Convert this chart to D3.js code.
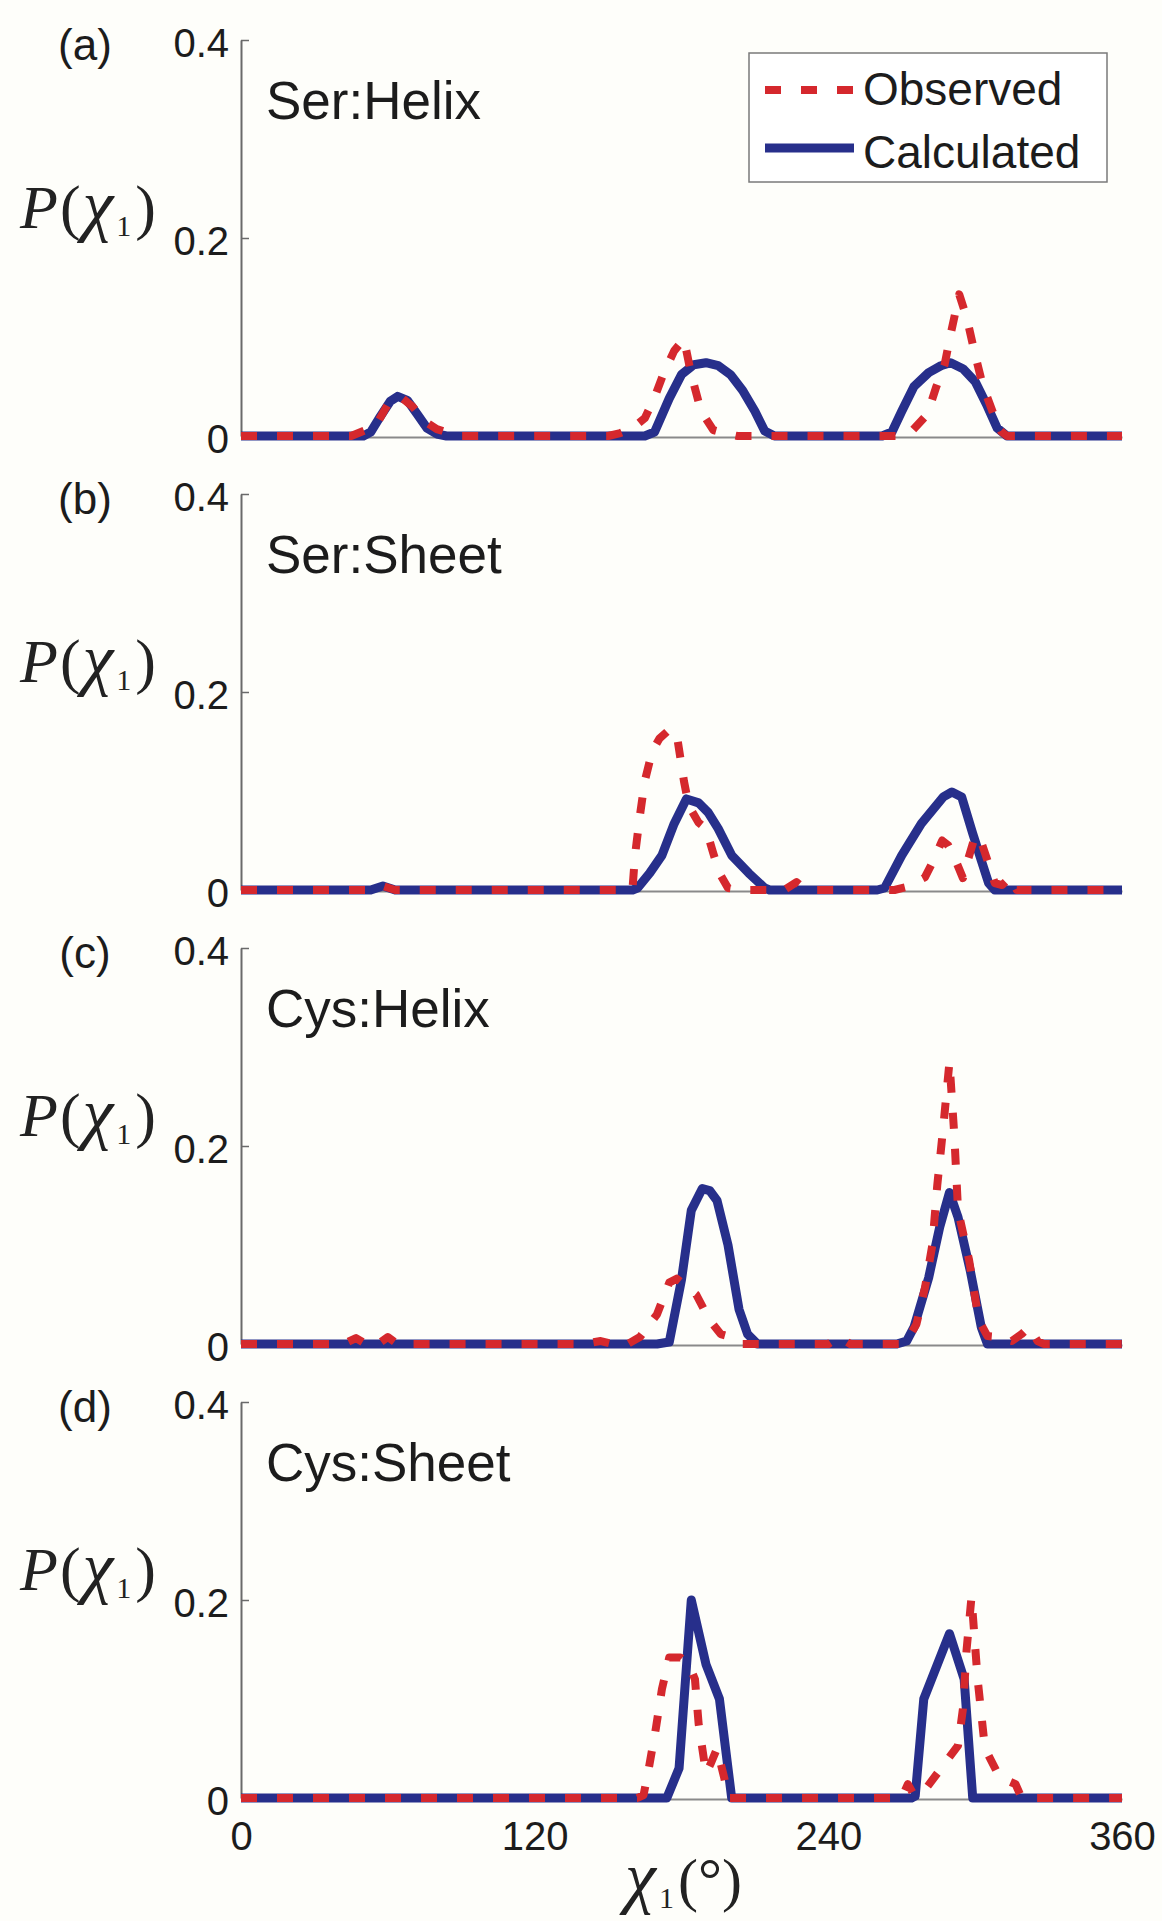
<!DOCTYPE html>
<html lang="en">
<head>
<meta charset="UTF-8">
<title>P(chi1) distributions: Ser and Cys</title>
<script src="https://cdnjs.cloudflare.com/ajax/libs/d3/7.8.5/d3.min.js"></script>
<style>
    body {
        margin: 0;
        background: #fefefa;
    }
    svg { display: block; }
    .tick text {
        font-family: "Liberation Sans", Arial, sans-serif;
        fill: #1c1c1c;
    }
</style>
</head>
<body>
<div id="chart"></div>
<script>
// panel labels and titles
const panelLabels = ["(a)", "(b)", "(c)", "(d)"];
const panelTitles = ["Ser:Helix", "Ser:Sheet", "Cys:Helix", "Cys:Sheet"];
const xTicks = [0, 120, 240, 360];
const yTicks = [0, 0.2, 0.4];
const seriesNames = ["Observed", "Calculated"];

// [chi1 in degrees, probability]
const observedA = [[0,0],[45,0],[50,0.005],[55,0.01],[60,0.032],[65,0.04],[70,0.03],[75,0.015],[80,0.007],[85,0.003],[90,0],
    [150,0],[155,0.003],[160,0.008],[165,0.018],[169,0.039],[172.5,0.062],[177,0.086],[181,0.098],[184,0.062],[188,0.025],[193,0.006],[199,0.002],[203,0],
    [270,0],[273,0.002],[280.5,0.022],[284,0.049],[287.5,0.072],[290,0.103],[293.5,0.143],[296.5,0.12],[300,0.082],[303,0.052],[307.5,0.022],[310.5,0.005],[313,0],[360,0]];
const calculatedA = [[0,0],[50,0],[53,0.004],[57,0.02],[61,0.035],[64,0.04],[68,0.036],[72,0.022],[76,0.008],[80,0.002],[84,0],
    [165,0],[169,0.004],[175,0.038],[180,0.062],[185,0.072],[190,0.074],[195,0.071],[200,0.062],[205,0.046],[210,0.025],[214,0.005],[218,0],
    [262,0],[266,0.004],[270,0.025],[275,0.05],[281,0.064],[286,0.071],[290,0.074],[295,0.068],[300,0.055],[305,0.03],[309,0.008],[313,0],[360,0]];

const observedB = [[0,0],[53,0],[58,0.004],[63,0],
    [155,0],[160,0.002],[161,0.035],[163,0.075],[165,0.11],[168,0.14],[171,0.153],[175.5,0.163],[178.5,0.15],[181,0.11],[183,0.085],[187,0.068],[190,0.062],[193,0.037],[195.5,0.017],[199,0.002],[205,0],
    [222,0],[227,0.008],[231,0],
    [267,0],[272,0.003],[279.5,0.013],[283,0.03],[286.5,0.05],[289,0.045],[292,0.03],[295,0.012],[297,0.03],[300,0.055],[302,0.052],[305,0.03],[308,0.007],[311,0.005],[314.5,0.013],[317,0],[360,0]];
const calculatedB = [[0,0],[53,0],[58,0.004],[63,0],
    [160,0],[162,0.002],[167,0.017],[172,0.035],[177,0.067],[182,0.092],[187,0.088],[191,0.078],[195,0.062],[200.5,0.035],[207.5,0.017],[214,0.002],[216,0],
    [260,0],[263,0.002],[270,0.035],[278,0.067],[287,0.094],[290.5,0.099],[294.5,0.094],[299,0.057],[302.5,0.03],[305.5,0.007],[308,0],[360,0]];

const observedC = [[0,0],[42,0],[47,0.006],[51,0],[56,0],[60,0.007],[64,0],
    [140,0],[147,0.003],[152,0],[158,0],[163,0.007],[170,0.03],[175,0.062],[178,0.066],[182,0.058],[186,0.05],[191.5,0.024],[196,0.01],[200.5,0.007],[205,0],
    [240,0],[244.5,0.007],[249,0],
    [270,0],[272,0.003],[276,0.02],[279.5,0.057],[282.5,0.1],[284.5,0.16],[287,0.22],[289.5,0.285],[291.5,0.21],[293,0.135],[297.5,0.085],[301.5,0.024],[305,0.008],[310,0.007],[315,0.003],[319,0.01],[322,0.017],[325.5,0.003],[328,0],[360,0]];
const calculatedC = [[0,0],[170,0],[175,0.002],[180,0.065],[184,0.135],[188.5,0.157],[191.5,0.155],[194.5,0.145],[199,0.1],[203.5,0.035],[207,0.01],[211,0],
    [268,0],[272,0.003],[275,0.017],[281,0.067],[285.5,0.118],[289.5,0.153],[293,0.128],[298,0.074],[302.5,0.017],[305,0],[360,0]];

const observedD = [[0,0],[162,0],[164.5,0.003],[166.5,0.028],[169.5,0.07],[172,0.11],[175,0.142],[179.5,0.142],[183,0.135],[185.5,0.12],[187,0.075],[190,0.025],[192,0.035],[194.5,0.05],[197.5,0.02],[199,0],
    [270,0],[272.5,0.014],[275,0.003],[280,0.01],[285.5,0.028],[293,0.053],[295,0.09],[296.5,0.15],[298.5,0.203],[301,0.12],[304,0.05],[310,0.021],[316.5,0.014],[319,0],[360,0]];
const calculatedD = [[0,0],[174,0],[179,0.03],[184,0.2],[190,0.135],[195.5,0.1],[200.5,0],
    [274,0],[275.5,0.002],[279,0.1],[289.5,0.166],[295.5,0.12],[299,0],[360,0]];

const observed = [observedA, observedB, observedC, observedD];
const calculated = [calculatedA, calculatedB, calculatedC, calculatedD];

// layout
const width = 1162, height = 1921;
const plotLeft = 241, plotRight = 1122;
const firstTop = 40, panelHeight = 396, panelStep = 454;
const red = "#d5282d", blue = "#272f8b", axisGray = "#6a6a6a";
const sans = "Liberation Sans, Arial, sans-serif";
const serif = "Liberation Serif, 'Times New Roman', serif";

const svg = d3.select("#chart").append("svg")
    .attr("width", width)
    .attr("height", height);

svg.append("rect").attr("width", width).attr("height", height).attr("fill", "#fefefa");

const x = d3.scaleLinear().domain([0, 360]).range([plotLeft, plotRight]);

// chi_1 with a lowered subscript, used by both axis titles
function chiLabel(textSel, prefix, suffix) {
    if (prefix) textSel.append("tspan").attr("font-style", "italic").text(prefix);
    textSel.append("tspan").attr("dx", prefix ? 2 : 0).text(prefix ? "(" : "");
    textSel.append("tspan").attr("font-style", "italic").attr("font-size", 70).attr("dx", 2).text("χ");
    textSel.append("tspan").attr("font-size", 30).attr("dx", 3).attr("dy", 8).text("1");
    textSel.append("tspan").attr("dx", 4).attr("dy", -8).text(suffix);
}

panelTitles.forEach((title, i) => {
    const top = firstTop + i * panelStep;
    const y = d3.scaleLinear().domain([0, 0.4]).range([top + panelHeight, top]);
    const g = svg.append("g");
    const isLast = i === panelTitles.length - 1;

    // x axis (labels only on the bottom panel)
    const xAxis = g.append("g")
        .attr("transform", `translate(0,${y(0) + 1})`)
        .call(d3.axisBottom(x).tickValues(xTicks).tickSize(0).tickPadding(23)
            .tickFormat(d => isLast ? String(d) : ""));
    xAxis.select(".domain").attr("stroke", "#8a8a8a").attr("stroke-width", 2);
    xAxis.selectAll(".tick text").attr("font-size", 40);

    // y axis, ticks pointing inward
    const yAxis = g.append("g")
        .attr("transform", `translate(${plotLeft},0)`)
        .call(d3.axisLeft(y).tickValues(yTicks).tickSize(-8).tickSizeOuter(0).tickPadding(12)
            .tickFormat(d => String(d)));
    yAxis.select(".domain").attr("stroke", axisGray).attr("stroke-width", 2);
    yAxis.selectAll(".tick line").attr("stroke", axisGray).attr("stroke-width", 1.5);
    yAxis.selectAll(".tick text").attr("font-size", 40).attr("dy", "0.4em");

    const line = d3.line()
        .x(d => x(d[0]))
        .y(d => y(d[1]));

    g.append("path")
        .datum(calculated[i])
        .attr("d", line)
        .attr("fill", "none")
        .attr("stroke", blue)
        .attr("stroke-width", 9)
        .attr("stroke-linejoin", "round");

    g.append("path")
        .datum(observed[i])
        .attr("d", line)
        .attr("fill", "none")
        .attr("stroke", red)
        .attr("stroke-width", 8)
        .attr("stroke-dasharray", "16,20")
        .attr("stroke-linejoin", "round");

    // panel letter
    g.append("text")
        .attr("x", 85)
        .attr("y", top + 20)
        .attr("text-anchor", "middle")
        .attr("font-family", sans)
        .attr("font-size", 44)
        .attr("fill", "#1c1c1c")
        .text(panelLabels[i]);

    // panel title
    g.append("text")
        .attr("x", 266)
        .attr("y", top + 79)
        .attr("font-family", sans)
        .attr("font-size", 53)
        .attr("fill", "#1c1c1c")
        .text(title);

    // y label P(chi_1)
    const yl = g.append("text")
        .attr("x", 20)
        .attr("y", top + 188)
        .attr("font-family", serif)
        .attr("font-size", 62)
        .attr("fill", "#222");
    chiLabel(yl, "P", ")");
});

// x axis label
const xl = svg.append("text")
    .attr("x", (plotLeft + plotRight) / 2)
    .attr("y", 1900)
    .attr("text-anchor", "middle")
    .attr("font-family", serif)
    .attr("font-size", 60)
    .attr("fill", "#222");
chiLabel(xl, "", "(°)");

// legend in panel (a)
const legend = svg.append("g");
legend.append("rect")
    .attr("x", 749).attr("y", 53)
    .attr("width", 358).attr("height", 129)
    .attr("fill", "#ffffff")
    .attr("stroke", "#7a7a7a")
    .attr("stroke-width", 1.5);

const legendRows = [
    { name: seriesNames[0], color: red, dash: "16,20", width: 8, ly: 90, ty: 105 },
    { name: seriesNames[1], color: blue, dash: null, width: 9, ly: 148, ty: 168 }
];
legendRows.forEach(r => {
    legend.append("line")
        .attr("x1", 765).attr("x2", 854)
        .attr("y1", r.ly).attr("y2", r.ly)
        .attr("stroke", r.color)
        .attr("stroke-width", r.width)
        .attr("stroke-dasharray", r.dash);
    legend.append("text")
        .attr("x", 863)
        .attr("y", r.ty)
        .attr("font-family", sans)
        .attr("font-size", 46)
        .attr("fill", "#1c1c1c")
        .text(r.name);
});
</script>
</body>
</html>
